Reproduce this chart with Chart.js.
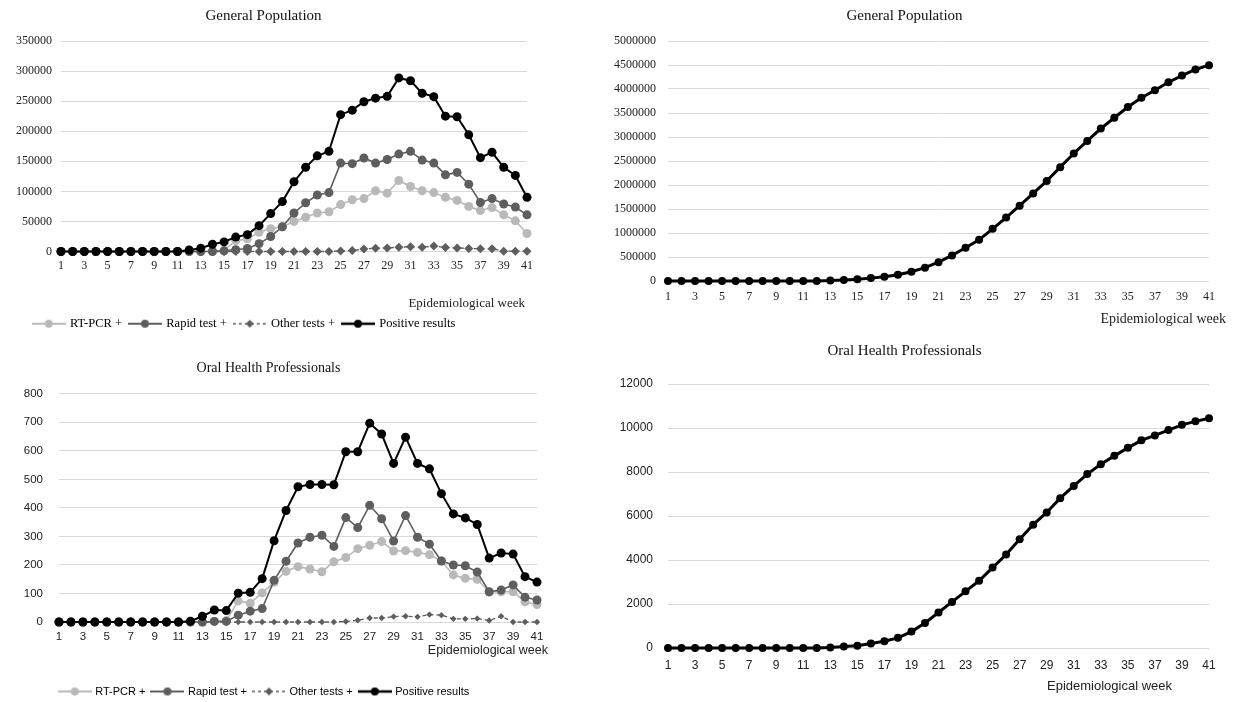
<!DOCTYPE html>
<html>
<head>
<meta charset="utf-8">
<script src="https://cdn.jsdelivr.net/npm/chart.js@4.4.1/dist/chart.umd.min.js"></script>
<style>
  html, body { margin: 0; padding: 0; background: #fff; }
  body { width: 1234px; height: 702px; position: relative; overflow: hidden; }
  canvas { position: absolute; }
</style>
</head>
<body>
<canvas id="gpWeekly" width="560" height="340" style="left:0;top:0"></canvas>
<canvas id="gpTotal" width="634" height="330" style="left:600px;top:0"></canvas>
<canvas id="ohpWeekly" width="560" height="362" style="left:0;top:340px"></canvas>
<canvas id="ohpTotal" width="634" height="367" style="left:600px;top:335px"></canvas>
<script>
// epidemiological weeks
const weeks = ['1','2','3','4','5','6','7','8','9','10','11','12','13','14','15','16','17','18','19','20',
  '21','22','23','24','25','26','27','28','29','30','31','32','33','34','35','36','37','38','39','40','41'];

const seriesNames = ['RT-PCR +', 'Rapid test +', 'Other tests +', 'Positive results'];

// General population, weekly
const gpRtPcr = [0,0,0,0,0,0,0,0,0,0,0,0,0,500,2000,18000,21000,32000,38000,41000,
  50000,57000,64000,66000,78000,86000,88000,101000,97000,118000,108000,101000,98000,90000,85000,75000,68000,73000,61000,51000,30000];
const gpRapid = [0,0,0,0,0,0,0,0,0,0,0,0,0,0,1000,3000,5000,13000,25000,41000,
  64000,81000,94000,98000,147000,146000,155500,147000,153000,162000,166500,152000,147000,127500,131500,112000,81500,88000,79000,74000,61000];
const gpOther = [0,0,0,0,0,0,0,0,0,0,0,0,0,0,0,0,0,0,0,0,
  0,0,0,0,1000,1500,4000,5500,6000,7200,7800,7200,9000,6600,6000,5000,4500,4500,500,500,500];
const gpPositive = [0,0,0,0,0,0,0,0,0,0,0,2500,5500,12000,16000,24000,28000,43000,63000,83000,
  116000,140000,159000,166500,227500,235000,249000,255000,258000,288600,284000,263000,257500,225000,224000,194000,156000,165000,140000,126500,90000];
// General population, cumulative
const gpCumulative = [0,0,0,0,0,0,0,0,0,0,0,2500,8000,20000,36000,60000,88000,131000,194000,277000,
  393000,533000,692000,858000,1086000,1321000,1570000,1825000,2083000,2372000,2656000,2919000,3176000,3401000,3625000,3819000,3975000,4140000,4280000,4407000,4497000];

// Oral health professionals, weekly
const ohpRtPcr = [0,0,0,0,0,0,0,0,0,0,0,0,0,2,5,74,66,102,139,178,
  194,186,176,211,226,257,269,282,249,250,244,236,214,165,153,150,105,106,106,71,61];
const ohpRapid = [0,0,0,0,0,0,0,0,0,0,0,0,0,2,2,24,38,47,146,213,
  277,297,304,265,366,331,409,362,284,373,297,273,214,200,197,175,106,112,130,87,77];
const ohpOther = [0,0,0,0,0,0,0,0,0,0,0,0,0,0,0,0,0,0,0,0,
  0,0,0,0,2,6,14,14,19,20,18,26,24,11,11,12,5,20,0,0,0];
const ohpPositive = [0,0,0,0,0,0,0,0,0,0,0,3,20,42,40,101,104,152,285,391,
  474,482,482,481,597,597,697,659,556,648,556,537,450,379,365,342,224,242,238,159,140];
// Oral health professionals, cumulative
const ohpCumulative = [0,0,0,0,0,0,0,0,0,0,0,3,23,65,105,206,310,462,747,1138,
  1612,2094,2576,3057,3654,4251,4948,5607,6163,6811,7367,7904,8354,8733,9098,9440,9664,9906,10144,10303,10443];

const SERIF = '"Liberation Serif", "Times New Roman", serif';
const SANS = '"Liberation Sans", Arial, sans-serif';
const colors = ['#b9b9b9', '#5e5e5e', '#5e5e5e', '#000000'];

// little line+marker pictures for the legend
function legendSymbol(color, dashed, diamond, lw, r) {
  const c = document.createElement('canvas');
  c.width = 34; c.height = 12;
  const g = c.getContext('2d');
  g.strokeStyle = color; g.fillStyle = color; g.lineWidth = lw;
  if (dashed) g.setLineDash([3, 3]);
  g.beginPath(); g.moveTo(0, 6); g.lineTo(34, 6); g.stroke();
  g.setLineDash([]);
  g.beginPath();
  if (diamond) {
    g.moveTo(17, 6 - r); g.lineTo(17 + r, 6); g.lineTo(17, 6 + r); g.lineTo(17 - r, 6); g.closePath();
  } else {
    g.arc(17, 6, r, 0, Math.PI * 2);
  }
  g.fill();
  return c;
}

const weekLabel = {
  id: 'weekLabel',
  afterDraw(chart, args, o) {
    const { ctx, chartArea } = chart;
    ctx.save();
    ctx.font = o.font;
    ctx.fillStyle = '#222';
    ctx.textAlign = 'right';
    ctx.textBaseline = 'middle';
    ctx.fillText('Epidemiological week', chartArea.right + o.dx, chartArea.bottom + o.dy);
    ctx.restore();
  }
};

const legendShift = {
  id: 'legendShift',
  afterLayout(chart, args, o) {
    if (chart.legend && o.dx) {
      chart.legend.left += o.dx;
      chart.legend.right += o.dx;
    }
  }
};

function scales(p) {
  return {
    x: {
      grid: { display: false, drawTicks: false },
      border: { display: false },
      ticks: {
        autoSkip: false, maxRotation: 0, padding: p.xPad, color: '#222',
        font: { family: p.tickFamily, size: p.tickSize },
        callback: (v, i) => (i % 2 === 0 ? weeks[i] : '')
      },
      afterFit: s => { s.height = p.xHeight; }
    },
    y: {
      min: 0, max: p.max,
      grid: { color: '#d9d9d9', lineWidth: 1, drawTicks: false },
      border: { display: false },
      ticks: {
        stepSize: p.step, padding: p.yPad, color: '#222',
        font: { family: p.tickFamily, size: p.tickSize },
        callback: v => String(v)
      },
      afterFit: s => { s.width = p.yWidth; }
    }
  };
}

function weeklyChart(id, title, data, p) {
  const symbols = [
    legendSymbol(colors[0], false, false, 2, 4),
    legendSymbol(colors[1], false, false, 2, 4),
    legendSymbol(colors[2], true, true, 1.5, 4),
    legendSymbol(colors[3], false, false, 2.5, 4)
  ];
  const widths = [1.6, 1.6, 1.3, 2];
  new Chart(document.getElementById(id), {
    type: 'line',
    data: {
      labels: weeks,
      datasets: data.map((d, i) => ({
        label: seriesNames[i],
        data: d,
        borderColor: colors[i],
        backgroundColor: colors[i],
        pointBackgroundColor: colors[i],
        pointBorderColor: colors[i],
        borderWidth: widths[i],
        borderDash: i === 2 ? [4, 3] : [],
        pointStyle: i === 2 ? 'rectRot' : 'circle',
        pointRadius: i === 2 ? p.diamond : p.radius,
        pointBorderWidth: 0,
        tension: 0,
        clip: false,
        order: 3 - i
      }))
    },
    options: {
      responsive: false, animation: false, devicePixelRatio: 1,
      layout: { padding: p.padding },
      plugins: {
        title: {
          display: true, text: title, color: '#111',
          font: { family: SERIF, size: p.titleSize, weight: 'normal' },
          padding: p.titlePad
        },
        legend: {
          position: 'bottom',
          labels: {
            usePointStyle: true, pointStyleWidth: 30, padding: p.legendPad, color: '#222',
            font: { family: p.legendFamily, size: p.legendSize },
            generateLabels: chart => chart.data.datasets.map((ds, i) => ({
              text: ds.label, pointStyle: symbols[i], fillStyle: 'transparent',
              strokeStyle: 'transparent', lineWidth: 0, hidden: false, datasetIndex: i
            }))
          }
        },
        tooltip: { enabled: false },
        weekLabel: p.week,
        legendShift: { dx: p.legendDx }
      },
      scales: scales(p)
    },
    plugins: [weekLabel, legendShift]
  });
}

function totalChart(id, title, data, p) {
  new Chart(document.getElementById(id), {
    type: 'line',
    data: {
      labels: weeks,
      datasets: [{
        label: 'Total',
        data: data,
        borderColor: '#000', backgroundColor: '#000',
        pointBackgroundColor: '#000', pointBorderWidth: 0,
        borderWidth: 3, pointRadius: p.radius, tension: 0, clip: false
      }]
    },
    options: {
      responsive: false, animation: false, devicePixelRatio: 1,
      layout: { padding: p.padding },
      plugins: {
        title: {
          display: true, text: title, color: '#111',
          font: { family: SERIF, size: p.titleSize, weight: 'normal' },
          padding: p.titlePad
        },
        legend: { display: false },
        tooltip: { enabled: false },
        weekLabel: p.week
      },
      scales: scales(p)
    },
    plugins: [weekLabel]
  });
}

weeklyChart('gpWeekly', 'General Population', [gpRtPcr, gpRapid, gpOther, gpPositive], {
  max: 350000, step: 50000, yWidth: 61, yPad: 9, xPad: 7, xHeight: 58,
  tickFamily: SERIF, tickSize: 12, titleSize: 15, titlePad: { top: 7, bottom: 16 },
  padding: { left: 0, right: 33, top: 0, bottom: 0 },
  radius: 4.5, diamond: 4.5, legendPad: 8, legendFamily: SERIF, legendSize: 12.5, legendDx: -19,
  week: { font: '13px ' + SERIF, dx: -2, dy: 52 }
});

totalChart('gpTotal', 'General Population', gpCumulative, {
  max: 5000000, step: 500000, yWidth: 68, yPad: 12, xPad: 9, xHeight: 49,
  tickFamily: SERIF, tickSize: 12, titleSize: 15, titlePad: { top: 7, bottom: 16 },
  padding: { left: 0, right: 25, top: 0, bottom: 0 },
  radius: 4,
  week: { font: '14px ' + SERIF, dx: 17, dy: 38 }
});

weeklyChart('ohpWeekly', 'Oral Health Professionals', [ohpRtPcr, ohpRapid, ohpOther, ohpPositive], {
  max: 800, step: 100, yWidth: 59, yPad: 16, xPad: 8, xHeight: 57,
  tickFamily: SANS, tickSize: 11.5, titleSize: 14, titlePad: { top: 20, bottom: 17 },
  padding: { left: 0, right: 23, top: 0, bottom: -5 },
  radius: 4.5, diamond: 3.2, legendPad: 7, legendFamily: SANS, legendSize: 11, legendDx: -4,
  week: { font: '12.5px ' + SANS, dx: 11, dy: 29 }
});

totalChart('ohpTotal', 'Oral Health Professionals', ohpCumulative, {
  max: 12000, step: 2000, yWidth: 68, yPad: 15, xPad: 10, xHeight: 54,
  tickFamily: SANS, tickSize: 12, titleSize: 15, titlePad: { top: 7, bottom: 24 },
  padding: { left: 0, right: 25, top: 0, bottom: 0 },
  radius: 4,
  week: { font: '13px ' + SANS, dx: -37, dy: 38 }
});
</script>
</body>
</html>
